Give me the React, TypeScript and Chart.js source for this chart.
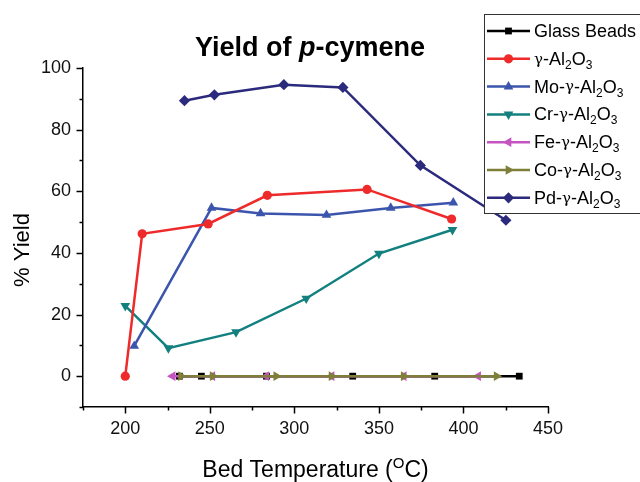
import React, { useEffect, useRef } from "react";
import { Chart, registerables } from "chart.js";

Chart.register(...registerables);

const seriesNames = ["Glass Beads", "γ-Al2O3", "Mo-γ-Al2O3", "Cr-γ-Al2O3", "Fe-γ-Al2O3", "Co-γ-Al2O3", "Pd-γ-Al2O3"];

const glassX = [232, 245, 283.5, 334.5, 383, 433];
const glassY = [0, 0, 0, 0, 0, 0];

const alX = [200, 210, 249, 284, 343, 393];
const alY = [0, 46.2, 49.4, 58.7, 60.6, 51.0];

const moX = [205.3, 251, 280, 319, 357, 394];
const moY = [9.8, 54.6, 52.8, 52.3, 54.6, 56.3];

const crX = [200, 225.5, 265.5, 307, 350, 393.5];
const crY = [22.8, 9.1, 14.3, 25.2, 39.8, 47.5];

const feX = [228, 251.5, 283.4, 322, 364.7, 408.7];
const feY = [0, 0, 0, 0, 0, 0];

const coX = [233, 251.7, 289.3, 322, 364.7, 419.6];
const coY = [0, 0, 0, 0, 0, 0];

const pdX = [235, 252.7, 293.8, 328.7, 374.5, 425.1];
const pdY = [89.4, 91.3, 94.6, 93.7, 68.4, 50.6];

const xTickLabels = [200, 250, 300, 350, 400, 450];
const yTickLabels = [0, 20, 40, 60, 80, 100];

const colors = ["#000000", "#ee2a2a", "#3b55ad", "#138080", "#c455c0", "#7f7f3a", "#2b2a7c"];
const pointStyles = ["rect", "circle", "triangle", "triangle", "triangle", "triangle", "rectRot"];
const rotations = [0, 0, 0, 180, 270, 90, 0];
const radii = [4.8, 4.6, 5.6, 5.6, 5.6, 5.6, 5.6];
const orders = [2, 4, 5, 6, 1, 0, 7];

const FONT = "'Liberation Sans', Arial, sans-serif";

function zip(xs: number[], ys: number[]) {
  return xs.map((x, i) => ({ x, y: ys[i] }));
}

function drawMarker(ctx: CanvasRenderingContext2D, style: string, rot: number, r: number, x: number, y: number, color: string) {
  ctx.save();
  ctx.fillStyle = color;
  ctx.strokeStyle = color;
  ctx.translate(x, y);
  ctx.rotate((rot * Math.PI) / 180);
  ctx.beginPath();
  if (style === "rect") {
    const s = Math.SQRT1_2 * r;
    ctx.rect(-s, -s, 2 * s, 2 * s);
  } else if (style === "circle") {
    ctx.arc(0, 0, r, 0, Math.PI * 2);
  } else if (style === "triangle") {
    ctx.moveTo(0, -r);
    ctx.lineTo(r * Math.sin(2 * Math.PI / 3), -r * Math.cos(2 * Math.PI / 3));
    ctx.lineTo(-r * Math.sin(2 * Math.PI / 3), -r * Math.cos(2 * Math.PI / 3));
    ctx.closePath();
  } else if (style === "rectRot") {
    ctx.moveTo(0, -r);
    ctx.lineTo(r, 0);
    ctx.lineTo(0, r);
    ctx.lineTo(-r, 0);
    ctx.closePath();
  }
  ctx.fill();
  ctx.restore();
}

// draw text with "2"/"3" after Al/O rendered as subscripts
function drawRichLabel(ctx: CanvasRenderingContext2D, text: string, x: number, y: number, size: number) {
  let cx = x;
  for (let i = 0; i < text.length; i++) {
    const ch = text[i];
    const prev = text[i - 1];
    const sub = (ch === "2" || ch === "3") && (prev === "l" || prev === "O");
    if (sub) {
      ctx.font = `${Math.round(size * 0.68)}px ${FONT}`;
      ctx.fillText(ch, cx, y + size * 0.32);
    } else if (ch === "γ") {
      ctx.font = `${Math.round(size * 0.82)}px 'DejaVu Serif', serif`;
      ctx.fillText(ch, cx, y);
    } else {
      ctx.font = `${size}px ${FONT}`;
      ctx.fillText(ch, cx, y);
    }
    cx += ctx.measureText(ch).width;
  }
}

const decorPlugin = {
  id: "decor",
  afterDraw(chart: any) {
    const ctx: CanvasRenderingContext2D = chart.ctx;
    const xs = chart.scales.x;
    const ys = chart.scales.y;
    const area = chart.chartArea;
    ctx.save();
    ctx.strokeStyle = "#000";
    ctx.lineWidth = 1.5;
    // y ticks
    for (let v = -10; v <= 100; v += 10) {
      const py = Math.round(ys.getPixelForValue(v)) + 0.5;
      const len = yTickLabels.includes(v) ? 6.5 : 3.5;
      ctx.beginPath();
      ctx.moveTo(area.left, py);
      ctx.lineTo(area.left - len, py);
      ctx.stroke();
    }
    // x ticks
    for (let v = 175; v <= 450; v += 25) {
      const px = Math.round(xs.getPixelForValue(v)) + 0.5;
      const len = xTickLabels.includes(v) ? 6.5 : 3.5;
      ctx.beginPath();
      ctx.moveTo(px, area.bottom);
      ctx.lineTo(px, area.bottom + len);
      ctx.stroke();
    }

    ctx.fillStyle = "#000";
    // Title
    ctx.textBaseline = "alphabetic";
    ctx.textAlign = "left";
    const t1 = "Yield of ";
    const t2 = "p";
    const t3 = "-cymene";
    const ts = 27;
    ctx.font = `bold ${ts}px ${FONT}`;
    const w1 = ctx.measureText(t1).width;
    const w3 = ctx.measureText(t3).width;
    ctx.font = `italic bold ${ts}px ${FONT}`;
    const w2 = ctx.measureText(t2).width;
    const tx = 310 - (w1 + w2 + w3) / 2;
    const ty = 56;
    ctx.font = `bold ${ts}px ${FONT}`;
    ctx.fillText(t1, tx, ty);
    ctx.font = `italic bold ${ts}px ${FONT}`;
    ctx.fillText(t2, tx + w1, ty);
    ctx.font = `bold ${ts}px ${FONT}`;
    ctx.fillText(t3, tx + w1 + w2, ty);

    // X axis title with superscript O
    const xa = "Bed Temperature (";
    const xb = "O";
    const xc = "C)";
    ctx.font = `23px ${FONT}`;
    const wa = ctx.measureText(xa).width;
    const wc = ctx.measureText(xc).width;
    ctx.font = `15px ${FONT}`;
    const wb = ctx.measureText(xb).width;
    const xx = (area.left + area.right) / 2 - (wa + wb + wc) / 2;
    const xy = 477;
    ctx.font = `23px ${FONT}`;
    ctx.fillText(xa, xx, xy);
    ctx.font = `15px ${FONT}`;
    ctx.fillText(xb, xx + wa, xy - 9);
    ctx.font = `23px ${FONT}`;
    ctx.fillText(xc, xx + wa + wb, xy);

    // Y axis title
    ctx.save();
    ctx.translate(29, 250);
    ctx.rotate(-Math.PI / 2);
    ctx.textAlign = "center";
    ctx.font = `22px ${FONT}`;
    ctx.fillText("% Yield", 0, 0);
    ctx.restore();

    // Legend box
    const bx = 484, by = 14, bw = 200, bh = 199;
    ctx.fillStyle = "#fff";
    ctx.fillRect(bx, by, bw, bh);
    ctx.strokeStyle = "#333";
    ctx.lineWidth = 1;
    ctx.strokeRect(bx + 0.5, by + 0.5, bw, bh);
    ctx.textBaseline = "middle";
    seriesNames.forEach((name, i) => {
      const ly = 31 + i * 27.8;
      ctx.strokeStyle = colors[i];
      ctx.lineWidth = 2.5;
      ctx.beginPath();
      ctx.moveTo(487, ly);
      ctx.lineTo(530, ly);
      ctx.stroke();
      drawMarker(ctx, pointStyles[i], rotations[i], radii[i], 508.5, ly, colors[i]);
      ctx.fillStyle = "#000";
      ctx.textAlign = "left";
      drawRichLabel(ctx, name, 534, ly + 1, 18);
    });
    ctx.restore();
  },
};

export default function App() {
  const ref = useRef<HTMLCanvasElement | null>(null);
  useEffect(() => {
    document.body.style.margin = "0";
    if (!ref.current) return;
    const xsArr = [glassX, alX, moX, crX, feX, coX, pdX];
    const ysArr = [glassY, alY, moY, crY, feY, coY, pdY];
    const datasets = seriesNames.map((name, i) => ({
      label: name,
      data: zip(xsArr[i], ysArr[i]),
      showLine: true,
      borderColor: colors[i],
      backgroundColor: colors[i],
      borderWidth: 2.5,
      pointStyle: pointStyles[i],
      rotation: rotations[i],
      pointRadius: radii[i],
      pointBorderWidth: 0,
      order: orders[i],
      tension: 0,
    }));
    const chart = new Chart(ref.current, {
      type: "scatter",
      data: { datasets },
      plugins: [decorPlugin],
      options: {
        animation: false,
        responsive: false,
        devicePixelRatio: 1,
        layout: { padding: { top: 68, right: 92, left: 0, bottom: 0 } },
        plugins: { legend: { display: false }, title: { display: false }, tooltip: { enabled: false } },
        scales: {
          x: {
            type: "linear",
            min: 175,
            max: 450,
            grid: { display: false, drawTicks: false },
            border: { display: true, color: "#000", width: 1.5 },
            afterFit: (s: any) => { s.height = 75; },
            ticks: {
              stepSize: 25,
              autoSkip: false,
              maxRotation: 0,
              padding: 11,
              color: "#111",
              font: { size: 18, family: FONT },
              callback: (v: any) => (xTickLabels.includes(Number(v)) ? String(v) : ""),
            },
          },
          y: {
            type: "linear",
            min: -10,
            max: 100,
            grid: { display: false, drawTicks: false },
            border: { display: true, color: "#000", width: 1.5 },
            afterFit: (s: any) => { s.width = 83; },
            ticks: {
              stepSize: 10,
              autoSkip: false,
              padding: 12,
              color: "#111",
              font: { size: 18, family: FONT },
              callback: (v: any) => (yTickLabels.includes(Number(v)) ? String(v) : ""),
            },
          },
        },
      } as any,
    });
    return () => chart.destroy();
  }, []);
  return (
    <div style={{ width: 640, height: 482 }}>
      <canvas ref={ref} width={640} height={482} style={{ display: "block" }} />
    </div>
  );
}
